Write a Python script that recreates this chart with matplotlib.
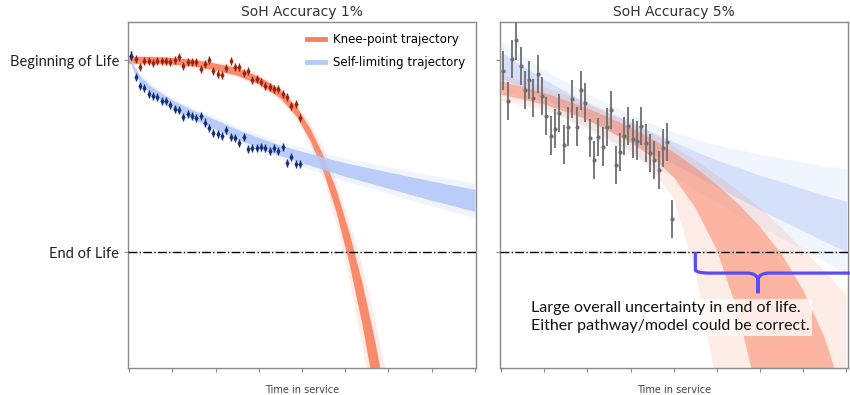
import numpy as np
import matplotlib.pyplot as plt
from matplotlib.path import Path
from matplotlib.patches import PathPatch

# SoH scale: 100 = beginning of life, 80 = end of life
BOL = 100.0
EOL = 80.0

# Observation times (regular sampling)
t_obs = np.round(np.arange(0.05, 4.0, 0.1), 2)

# Left panel (1% accuracy) measurements
knee_obs = [100.5, 100.14, 99.34, 99.97, 99.97, 99.69, 99.9, 99.9, 99.9, 99.79,
            100.03, 100.31, 99.45, 99.79, 99.79, 99.79, 99.09, 99.61, 100.03, 98.92,
            98.57, 98.5, 99.19, 99.9, 99.34, 99.34, 98.64, 98.92, 97.94, 98.04,
            97.7, 97.35, 97.25, 97.0, 97.0, 96.47, 96.13, 95.26, 95.42, 93.96]
self_obs = [100.5, 98.29, 97.35, 97.1, 96.47, 96.3, 96.13, 95.78, 95.71, 95.36,
            94.9, 94.8, 94.1, 94.38, 94.21, 93.96, 94.21, 93.51, 92.98, 92.46,
            92.36, 92.12, 92.7, 92.01, 91.86, 91.41, 92.01, 90.71, 90.89, 90.89,
            90.96, 90.82, 90.54, 90.89, 90.54, 90.96, 89.32, 89.92, 89.21, 89.14]
err_1pct = 0.42

# Right panel (5% accuracy) measurements
noisy_obs = [98.93, 95.77, 100.13, 102.07, 99.43, 96.92, 97.96, 96.05, 98.56, 96.29,
             94.2, 92.15, 92.88, 94.49, 91.21, 93.09, 95.95, 93.09, 96.85, 95.59,
             91.87, 89.58, 91.98, 91.0, 93.02, 94.83, 89.09, 90.44, 92.11, 93.16,
             91.83, 91.62, 93.16, 91.35, 90.31, 89.61, 88.56, 90.83, 91.49, 83.45]
err_5pct = 2.0

# Left panel trajectory ensembles (envelopes)
kp1_t = [0, 0.5, 1, 1.5, 2, 2.5, 3, 3.5, 3.9, 4.2, 4.5, 4.8, 5.1, 5.4, 5.7, 6.0]
kp1_lo = [99.65, 99.65, 99.55, 99.35, 98.95, 98.4, 97.5, 96.05, 94.0, 91.55, 88.35, 84.15, 78.8, 72.4, 65.0, 56.6]
kp1_hi = [100.35, 100.35, 100.25, 100.05, 99.65, 99.2, 98.3, 96.95, 95.0, 92.85, 90.05, 86.45, 82.0, 76.8, 70.6, 63.4]
kp1_lo_out = [99.5, 99.5, 99.4, 99.2, 98.8, 98.2, 97.3, 95.8, 93.6, 91.0, 87.6, 83.0, 77.2, 70.2, 62.4, 53.5]
kp1_hi_out = [100.5, 100.5, 100.4, 100.2, 99.8, 99.4, 98.5, 97.2, 95.4, 93.4, 90.8, 87.4, 83.2, 78.6, 72.8, 66.3]

sl1_t = [0, 0.1, 0.25, 0.5, 1, 1.5, 2, 2.5, 3, 3.5, 4, 5, 6, 7, 8]
sl1_lo = [100.2, 98.9, 97.65, 96.5, 94.95, 93.85, 92.8, 91.8, 90.85, 90.05, 89.3, 87.9, 86.65, 85.4, 84.25]
sl1_hi = [100.6, 99.5, 98.35, 97.3, 95.85, 94.75, 93.8, 92.8, 91.95, 91.15, 90.5, 89.3, 88.35, 87.4, 86.55]
sl1_lo_out = [100.0, 98.6, 97.4, 96.2, 94.7, 93.6, 92.5, 91.5, 90.5, 89.7, 88.9, 87.4, 86.1, 84.8, 83.6]
sl1_hi_out = [100.8, 99.8, 98.6, 97.6, 96.1, 95.0, 94.1, 93.1, 92.3, 91.5, 90.9, 89.8, 88.9, 88.0, 87.2]

# Right panel trajectory ensembles (envelopes)
fan_t = [0, 1, 2, 3, 3.5, 4, 4.5, 5, 5.5, 6, 6.5, 7, 7.5, 8]
kp5_lo_out = [95.8, 94.8, 93.0, 90.5, 88.6, 85.5, 78.0, 66.0, 52.0, 40, 40, 40, 40, 40]
kp5_lo = [96.4, 95.4, 93.8, 91.4, 89.9, 87.8, 84.6, 80.2, 73.5, 64.0, 40, 40, 40, 40]
kp5_hi = [97.8, 96.6, 95.0, 93.0, 91.8, 90.4, 88.8, 87.0, 85.0, 82.6, 79.8, 76.0, 71.0, 64.0]
kp5_hi_out = [98.5, 97.2, 95.6, 93.6, 92.4, 91.0, 89.6, 88.0, 86.4, 84.6, 82.5, 80.2, 78.0, 75.5]

sl5_hi_out = [102.0, 99.0, 96.5, 94.4, 93.4, 92.5, 91.8, 91.2, 90.7, 90.2, 89.8, 89.4, 89.0, 88.7]
sl5_hi = [100.8, 98.0, 95.5, 93.5, 92.5, 91.5, 90.5, 89.6, 88.8, 88.0, 87.3, 86.6, 85.9, 85.3]
sl5_lo = [98.2, 96.0, 93.8, 91.5, 90.3, 89.2, 88.0, 86.8, 85.6, 84.4, 83.3, 82.2, 81.1, 80.0]
sl5_lo_out = [97.0, 95.2, 92.8, 90.2, 89.0, 87.8, 86.5, 85.2, 83.9, 82.6, 81.4, 80.2, 79.0, 77.8]

# brace spans from earliest knee EoL crossing to beyond the right edge
brace_start = 4.5
brace_mid = 5.95
brace_end = 8.1

KNEE_C = '#f9805f'
SELF_C = '#b3c9f8'
GRAY = '#8a8a8a'

fig = plt.figure(figsize=(8.5, 3.95), dpi=100)
ax1 = fig.add_axes([0.1506, 0.0684, 0.4094, 0.876])
ax2 = fig.add_axes([0.588, 0.0684, 0.4094, 0.876])


def style(ax, title):
    ax.set_xlim(-0.03, 8.03)
    ax.set_ylim(67.9, 104.0)
    ax.set_xticks(np.arange(0, 9))
    ax.set_xticklabels([])
    ax.set_yticks([EOL, BOL])
    ax.tick_params(length=3, color=GRAY, width=0.8)
    for s in ax.spines.values():
        s.set_color(GRAY)
        s.set_linewidth(1)
    ax.set_title(title, fontsize=10, color='#333333', pad=4)
    ax.set_xlabel('Time in service', fontsize=7, color='#444444', labelpad=6)
    ax.axhline(EOL, color='k', ls='-.', lw=1, zorder=5)


style(ax1, 'SoH Accuracy 1%')
style(ax2, 'SoH Accuracy 5%')
ax1.set_yticklabels(['End of Life', 'Beginning of Life'], family=['Lato', 'DejaVu Sans'],
                    fontsize=10.5, color='#222222')
ax2.set_yticklabels([])

# left: narrow bands
ax1.fill_between(kp1_t, kp1_lo_out, kp1_hi_out, color=KNEE_C, alpha=0.15, lw=0)
ax1.fill_between(kp1_t, kp1_lo, kp1_hi, color=KNEE_C, alpha=0.9, lw=0)
ax1.fill_between(sl1_t, sl1_lo_out, sl1_hi_out, color=SELF_C, alpha=0.2, lw=0)
ax1.fill_between(sl1_t, sl1_lo, sl1_hi, color=SELF_C, alpha=0.9, lw=0)

ax1.errorbar(t_obs, knee_obs, yerr=err_1pct, fmt='d', ms=2.2, color='#9a2410',
             elinewidth=1, capsize=0, zorder=4)
ax1.errorbar(t_obs, self_obs, yerr=err_1pct, fmt='d', ms=2.2, color='#13307a',
             elinewidth=1, capsize=0, zorder=4)

ax1.plot([], [], color=KNEE_C, lw=3.5, label='Knee-point trajectory')
ax1.plot([], [], color=SELF_C, lw=3.5, label='Self-limiting trajectory')
ax1.legend(loc='upper right', frameon=False, fontsize=8.5, handlelength=1.6,
           handletextpad=0.6, borderaxespad=0.55, labelspacing=0.85)

# right: wide fans
ax2.fill_between(fan_t, sl5_lo_out, sl5_hi_out, color=SELF_C, alpha=0.18, lw=0)
ax2.fill_between(fan_t, sl5_lo, sl5_hi, color=SELF_C, alpha=0.45, lw=0)
ax2.fill_between(fan_t, kp5_lo_out, kp5_hi_out, color=KNEE_C, alpha=0.15, lw=0)
ax2.fill_between(fan_t, kp5_lo, kp5_hi, color=KNEE_C, alpha=0.5, lw=0)

ax2.errorbar(t_obs, noisy_obs, yerr=err_5pct, fmt='o', ms=2, color='#6e6e6e',
             elinewidth=1.3, capsize=0, zorder=4)

# curly brace under the EoL line
by0, by1, by2 = EOL, EOL - 2.2, EOL - 4.3
verts = [(brace_start, by0), (brace_start, by1 + 0.3), (brace_start + 0.05, by1), (brace_start + 0.3, by1),
         (brace_mid - 0.25, by1), (brace_mid - 0.05, by1), (brace_mid, by1 - 0.6), (brace_mid, by2),
         (brace_mid, by1 - 0.6), (brace_mid + 0.05, by1), (brace_mid + 0.25, by1), (brace_end, by1)]
codes = [Path.MOVETO, Path.LINETO, Path.CURVE3, Path.CURVE3, Path.LINETO, Path.CURVE3, Path.CURVE3,
         Path.LINETO, Path.LINETO, Path.CURVE3, Path.CURVE3, Path.LINETO]
ax2.add_patch(PathPatch(Path(verts, codes), fill=False, color='#5a4cf2', lw=2.3,
                        clip_on=False, zorder=6, capstyle='butt'))

ax2.text(0.7, 73.2, 'Large overall uncertainty in end of life.\nEither pathway/model could be correct.',
         family=['Lato', 'DejaVu Sans'], fontsize=11.5, color='#111111', va='center', ha='left',
         linespacing=1.35, zorder=7,
         bbox=dict(boxstyle='square,pad=0.15', fc='white', ec='none', alpha=0.75))

fig.savefig('out.png', dpi=100)
